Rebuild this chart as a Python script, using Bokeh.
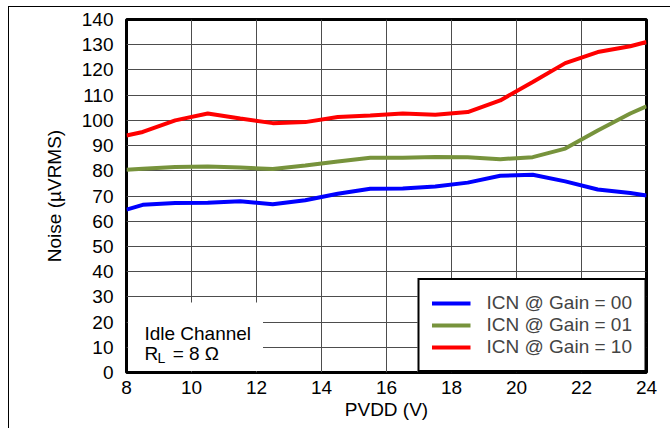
from bokeh.plotting import figure
from bokeh.models import Label, BoxAnnotation, Range1d, FixedTicker, Legend
from bokeh.embed import file_html
from bokeh.resources import INLINE

pvdd = [8, 8.5, 9.5, 10.5, 11.5, 12.5, 13.5, 14.5, 15.5, 16.5, 17.5, 18.5, 19.5, 20.5, 21.5, 22.5, 23.5, 24]
icn_gain_00 = [64.6, 66.5, 67.2, 67.3, 67.9, 66.7, 68.3, 70.9, 72.9, 73.0, 73.8, 75.3, 78.0, 78.4, 75.8, 72.6, 71.2, 70.2]
icn_gain_01 = [80.4, 80.8, 81.5, 81.7, 81.3, 80.7, 82.1, 83.7, 85.2, 85.2, 85.5, 85.4, 84.6, 85.4, 88.8, 96.0, 102.7, 105.6]
icn_gain_10 = [94.0, 95.4, 100.0, 102.7, 100.7, 98.9, 99.3, 101.3, 101.9, 102.7, 102.2, 103.3, 107.9, 115.2, 122.7, 127.1, 129.4, 131.1]
x_ticks = [8, 10, 12, 14, 16, 18, 20, 22, 24]
y_ticks = [0, 10, 20, 30, 40, 50, 60, 70, 80, 90, 100, 110, 120, 130, 140]
series_labels = ["ICN @ Gain = 00", "ICN @ Gain = 01", "ICN @ Gain = 10"]
series_colors = ["#0000FF", "#77933C", "#FF0000"]

FONT = "Liberation Sans"

p = figure(width=662, height=422, output_backend="svg", toolbar_location=None,
           x_range=Range1d(8, 24), y_range=Range1d(0, 140),
           min_border_left=117, min_border_right=25, min_border_top=12, min_border_bottom=57,
           styles={"border-top": "1px solid black", "border-left": "1px solid black",
                   "margin-left": "8px", "margin-top": "6px"})
p.background_fill_color = "white"
p.border_fill_color = "white"
p.outline_line_color = "black"
p.outline_line_width = 3
p.outline_line_alpha = 1.0

p.xaxis.ticker = FixedTicker(ticks=x_ticks)
p.yaxis.ticker = FixedTicker(ticks=y_ticks)
for ax in (p.xaxis, p.yaxis):
    ax.axis_line_color = None
    ax.major_tick_line_color = None
    ax.minor_tick_line_color = None
    ax.major_tick_out = 0
    ax.major_tick_in = 0
    ax.major_label_text_font = FONT
    ax.major_label_text_font_size = "19px"
    ax.major_label_text_color = "black"
    ax.axis_label_text_font = FONT
    ax.axis_label_text_font_size = "19px"
    ax.axis_label_text_font_style = "normal"
    ax.axis_label_text_color = "black"

p.xaxis.axis_label = "PVDD (V)"
p.yaxis.axis_label = "Noise (µVRMS)"
p.xaxis.major_label_standoff = 8
p.xaxis.axis_label_standoff = 2
p.yaxis.major_label_standoff = 13
p.yaxis.axis_label_standoff = 14

p.xgrid.grid_line_color = "#4d4d4d"
p.ygrid.grid_line_color = "#4d4d4d"
p.xgrid.grid_line_width = 1
p.ygrid.grid_line_width = 1

# white background behind the annotation text
p.add_layout(BoxAnnotation(left=8.05, right=12.2, bottom=0.6, top=27.8,
                           fill_color="white", fill_alpha=1.0, line_color=None, level="glyph"))

renderers = []
for ys, col in zip([icn_gain_00, icn_gain_01, icn_gain_10], series_colors):
    r = p.line(pvdd, ys, line_color=col, line_width=4)
    renderers.append(r)

legend = Legend(items=[(lab, [r]) for lab, r in zip(series_labels, renderers)],
                location="bottom_right", margin=0, padding=12, spacing=0,
                glyph_width=39, glyph_height=20, label_height=20, label_standoff=16,
                label_text_font=FONT, label_text_font_size="19px",
                border_line_color="black", border_line_width=2, border_line_alpha=1.0,
                background_fill_color="white", background_fill_alpha=1.0)
p.add_layout(legend)

p.add_layout(Label(x=8.55, y=15.5, text="Idle Channel", text_font=FONT,
                   text_font_size="19px", text_baseline="alphabetic", text_color="black"))
p.add_layout(Label(x=8.55, y=7.5, text="R", text_font=FONT,
                   text_font_size="19px", text_baseline="alphabetic", text_color="black"))
p.add_layout(Label(x=8.95, y=5.6, text="L", text_font=FONT,
                   text_font_size="14px", text_baseline="alphabetic", text_color="black"))
p.add_layout(Label(x=9.42, y=7.5, text="= 8 Ω", text_font=FONT,
                   text_font_size="19px", text_baseline="alphabetic", text_color="black"))
p.add_layout(Label(x=24.55, y=-18.5, text="G007", text_font=FONT,
                   text_font_size="9px", text_align="right", text_baseline="alphabetic",
                   text_color="black"))

open("out.html", "w").write(file_html(p, INLINE))
